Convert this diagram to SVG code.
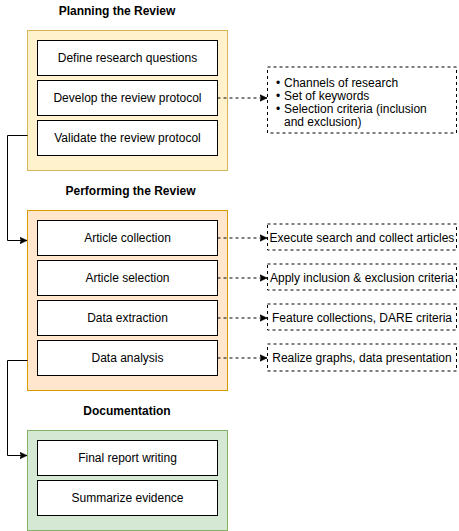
<svg xmlns="http://www.w3.org/2000/svg" width="459" height="531" viewBox="0 0 459 531">
<defs>
<style>
.title{font-family:"Liberation Sans",Arial,Helvetica,sans-serif;font-size:12px;font-weight:bold;fill:#000;text-anchor:middle}
.lbl{font-family:"Liberation Sans",Arial,Helvetica,sans-serif;font-size:12px;fill:#000;text-anchor:middle}
.note{font-family:"Liberation Sans",Arial,Helvetica,sans-serif;font-size:12px;fill:#000}
.box{fill:#fff;stroke:#000;stroke-width:1}
.dbox{fill:#fff;stroke:#000;stroke-width:1;stroke-dasharray:3 3}
.solid{fill:none;stroke:#000;stroke-width:1}
.dash{fill:none;stroke:#000;stroke-width:1;stroke-dasharray:3 3}
</style>
<marker id="arr" viewBox="0 0 8 8" refX="7.5" refY="4" markerWidth="8" markerHeight="8" markerUnits="userSpaceOnUse" orient="auto">
<path d="M0,0.5 L7.5,4 L0,7.5 L1.8,4 Z" fill="#000" stroke="#000" stroke-width="0.6"/>
</marker>
</defs>
<rect width="459" height="531" fill="#fff"/>

<g id="planning">
<text class="title" x="117" y="15">Planning the Review</text>
<rect x="27.5" y="30.5" width="200" height="140" fill="#fff2cc" stroke="#d6b656"/>
</g>
<g id="define"><rect class="box" x="37.5" y="40.5" width="180" height="35"/><text class="lbl" x="127.5" y="62">Define research questions</text></g>
<g id="develop"><rect class="box" x="37.5" y="80.5" width="180" height="35"/><text class="lbl" x="127.5" y="102">Develop the review protocol</text></g>
<g id="validate"><rect class="box" x="37.5" y="120.5" width="180" height="35"/><text class="lbl" x="127.5" y="142">Validate the review protocol</text></g>

<g id="protocol-notes">
<rect class="dbox" x="267.5" y="67" width="189" height="66"/>
<text class="note"><tspan x="276" y="86.5">•</tspan><tspan x="284" y="86.5">Channels of research</tspan><tspan x="276" y="99.5">•</tspan><tspan x="284" y="99.5">Set of keywords</tspan><tspan x="276" y="112.5">•</tspan><tspan x="284" y="112.5">Selection criteria (inclusion</tspan><tspan x="284" y="125.5">and exclusion)</tspan></text>
</g>

<g id="performing">
<text class="title" x="130.5" y="195">Performing the Review</text>
<rect x="27.5" y="210.5" width="200" height="180" fill="#ffe6cc" stroke="#d79b00"/>
</g>
<g id="collection"><rect class="box" x="37.5" y="220.5" width="180" height="35"/><text class="lbl" x="127.5" y="242">Article collection</text></g>
<g id="selection"><rect class="box" x="37.5" y="260.5" width="180" height="35"/><text class="lbl" x="127.5" y="282">Article selection</text></g>
<g id="extraction"><rect class="box" x="37.5" y="300.5" width="180" height="35"/><text class="lbl" x="127.5" y="322">Data extraction</text></g>
<g id="analysis"><rect class="box" x="37.5" y="340.5" width="180" height="35"/><text class="lbl" x="127.5" y="362">Data analysis</text></g>

<g id="execute"><rect class="dbox" x="267.5" y="224" width="189" height="26"/><text class="note" x="362" y="241.5" text-anchor="middle">Execute search and collect articles</text></g>
<g id="apply"><rect class="dbox" x="267.5" y="264" width="189" height="26"/><text class="note" x="362" y="281.5" text-anchor="middle">Apply inclusion &amp; exclusion criteria</text></g>
<g id="feature"><rect class="dbox" x="267.5" y="304" width="189" height="26"/><text class="note" x="362" y="321.5" text-anchor="middle">Feature collections, DARE criteria</text></g>
<g id="realize"><rect class="dbox" x="267.5" y="344" width="189" height="27"/><text class="note" x="362" y="362" text-anchor="middle">Realize graphs, data presentation</text></g>

<g id="documentation">
<text class="title" x="127" y="415">Documentation</text>
<rect x="27.5" y="430.5" width="200" height="100" fill="#d5e8d4" stroke="#82b366"/>
</g>
<g id="final"><rect class="box" x="37.5" y="440.5" width="180" height="35"/><text class="lbl" x="127.5" y="462">Final report writing</text></g>
<g id="summarize"><rect class="box" x="37.5" y="480.5" width="180" height="35"/><text class="lbl" x="127.5" y="502">Summarize evidence</text></g>

<g id="connectors">
<path class="solid" d="M27.5,135.5 H7.5 V240.5 H27" marker-end="url(#arr)"/>
<path class="solid" d="M27.5,360.5 H7.5 V455.5 H27" marker-end="url(#arr)"/>
<path class="dash" d="M217.5,98 H267" marker-end="url(#arr)"/>
<path class="dash" d="M217.5,238 H267" marker-end="url(#arr)"/>
<path class="dash" d="M217.5,278 H267" marker-end="url(#arr)"/>
<path class="dash" d="M217.5,318 H267" marker-end="url(#arr)"/>
<path class="dash" d="M217.5,358 H267" marker-end="url(#arr)"/>
</g>
</svg>
